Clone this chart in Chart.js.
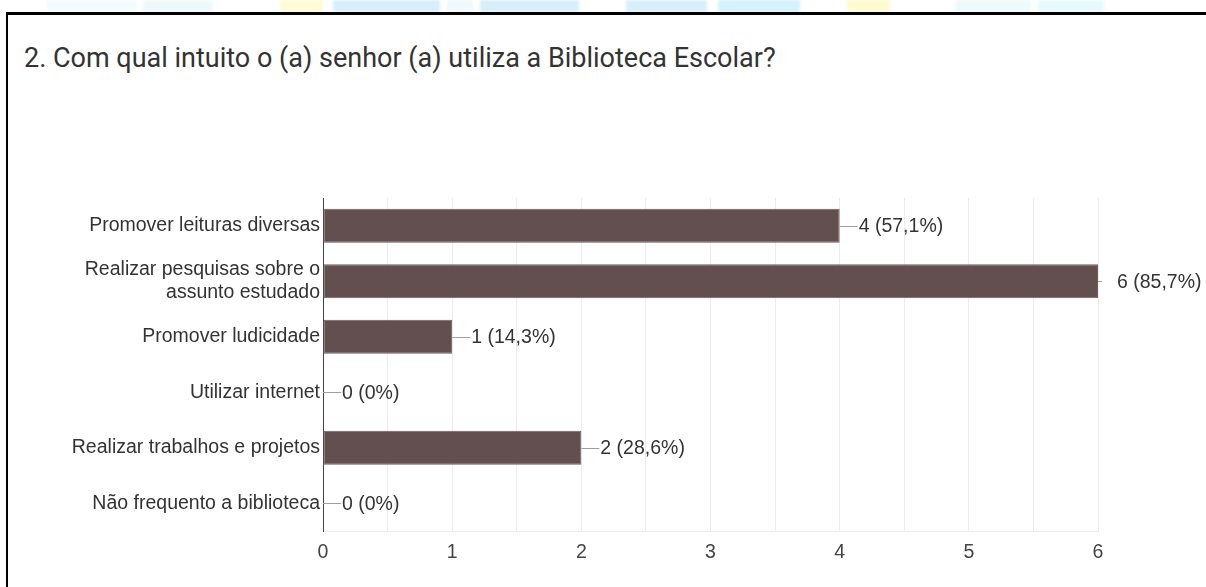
<!DOCTYPE html>
<html>
<head>
<meta charset="utf-8">
<script src="https://cdn.jsdelivr.net/npm/chart.js@4.4.1/dist/chart.umd.min.js"></script>
<style>
  html, body { margin: 0; padding: 0; background: #ffffff; }
  body { width: 1206px; height: 587px; position: relative; overflow: hidden; }
  #strip { position: absolute; left: 0; top: 0; width: 1206px; height: 12px; filter: blur(1.5px); }
  #strip div { position: absolute; top: 0; height: 12px; }
  #frame { position: absolute; left: 6px; top: 12px; width: 1206px; height: 600px;
           border-top: 3px solid #000; border-left: 2px solid #000; box-sizing: border-box; }
  #title { position: absolute; left: 24px; top: 45px; font-family: Roboto, "Noto Sans", sans-serif;
           font-size: 27px; line-height: 27px; color: #333333; white-space: nowrap; }
  #wrap { position: absolute; left: 0; top: 0; width: 1206px; height: 587px; }
</style>
</head>
<body>
<div id="strip">
  <div style="left:47px;width:90px;background:#f4fbfd"></div>
  <div style="left:143px;width:70px;background:#eef9fc"></div>
  <div style="left:280px;width:43px;background:#fffbd6"></div>
  <div style="left:333px;width:107px;background:#d6effb"></div>
  <div style="left:447px;width:26px;background:#f0f9fd"></div>
  <div style="left:480px;width:99px;background:#d6effb"></div>
  <div style="left:626px;width:81px;background:#d6effb"></div>
  <div style="left:718px;width:82px;background:#d3f2fc"></div>
  <div style="left:847px;width:43px;background:#fffad0"></div>
  <div style="left:955px;width:76px;background:#eefafc"></div>
  <div style="left:1038px;width:66px;background:#e6f9fb"></div>
</div>
<div id="frame"></div>
<div id="title">2. Com qual intuito o (a) senhor (a) utiliza a Biblioteca Escolar?</div>
<div id="wrap"><canvas id="chart" width="1206" height="587"></canvas></div>
<script>
// Answers to question 2 and how many respondents picked each one
const categories = [
  "Promover leituras diversas",
  ["Realizar pesquisas sobre o", "assunto estudado"],
  "Promover ludicidade",
  "Utilizar internet",
  "Realizar trabalhos e projetos",
  "Não frequento a biblioteca"
];
const counts = [4, 6, 1, 0, 2, 0];
const percentages = [57.1, 85.7, 14.3, 0, 28.6, 0];
const xTicks = [0, 1, 2, 3, 4, 5, 6];

const FONT = "'Liberation Sans', Arial, sans-serif";
const FONT_SIZE = 19.5;

function formatPct(p) {
  return String(p).replace('.', ',') + '%';
}

// Leader line + "n (p%)" label to the right of each bar
const valueLabels = {
  id: 'valueLabels',
  afterDatasetsDraw(chart) {
    const ctx = chart.ctx;
    const meta = chart.getDatasetMeta(0);
    const xMax = chart.scales.x.max;
    ctx.save();
    ctx.font = FONT_SIZE + 'px ' + FONT;
    ctx.textBaseline = 'middle';
    ctx.textAlign = 'left';
    meta.data.forEach((bar, i) => {
      const x = bar.x;
      const y = bar.y;
      const atMax = counts[i] >= xMax;
      const lineLen = atMax ? 4 : 18;
      const textX = x + 19;
      ctx.strokeStyle = '#9e9e9e';
      ctx.lineWidth = 1;
      ctx.beginPath();
      ctx.moveTo(x, Math.round(y) + 0.5);
      ctx.lineTo(x + lineLen, Math.round(y) + 0.5);
      ctx.stroke();
      ctx.fillStyle = '#333333';
      ctx.fillText(counts[i] + ' (' + formatPct(percentages[i]) + ')', textX, y + 1);
    });
    ctx.restore();
  }
};

new Chart(document.getElementById('chart'), {
  type: 'bar',
  data: {
    labels: categories,
    datasets: [{
      data: counts,
      backgroundColor: '#634f50',
      borderColor: '#705d5e',
      borderWidth: 1,
      borderSkipped: false,
      barPercentage: 0.615,
      categoryPercentage: 1.0
    }]
  },
  options: {
    indexAxis: 'y',
    responsive: false,
    animation: false,
    devicePixelRatio: 1,
    layout: { padding: { left: 0, top: 198, right: 108, bottom: 0 } },
    plugins: { legend: { display: false }, tooltip: { enabled: false } },
    scales: {
      x: {
        min: xTicks[0],
        max: xTicks[xTicks.length - 1],
        afterFit(scale) { scale.height = 56; },
        ticks: {
          stepSize: 0.5,
          autoSkip: false,
          maxRotation: 0,
          padding: 10,
          color: '#444444',
          font: { family: FONT, size: FONT_SIZE },
          callback(v) { return xTicks.includes(v) ? String(v) : ''; }
        },
        grid: { color: '#ececec', drawTicks: false },
        border: { color: '#ececec' }
      },
      y: {
        afterFit(scale) { scale.width = 323; },
        ticks: {
          padding: 3,
          color: '#333333',
          font: { family: FONT, size: FONT_SIZE, lineHeight: 1.15 }
        },
        grid: { display: false, drawTicks: false },
        border: { color: '#444444', width: 1 }
      }
    }
  },
  plugins: [valueLabels]
});
</script>
</body>
</html>
